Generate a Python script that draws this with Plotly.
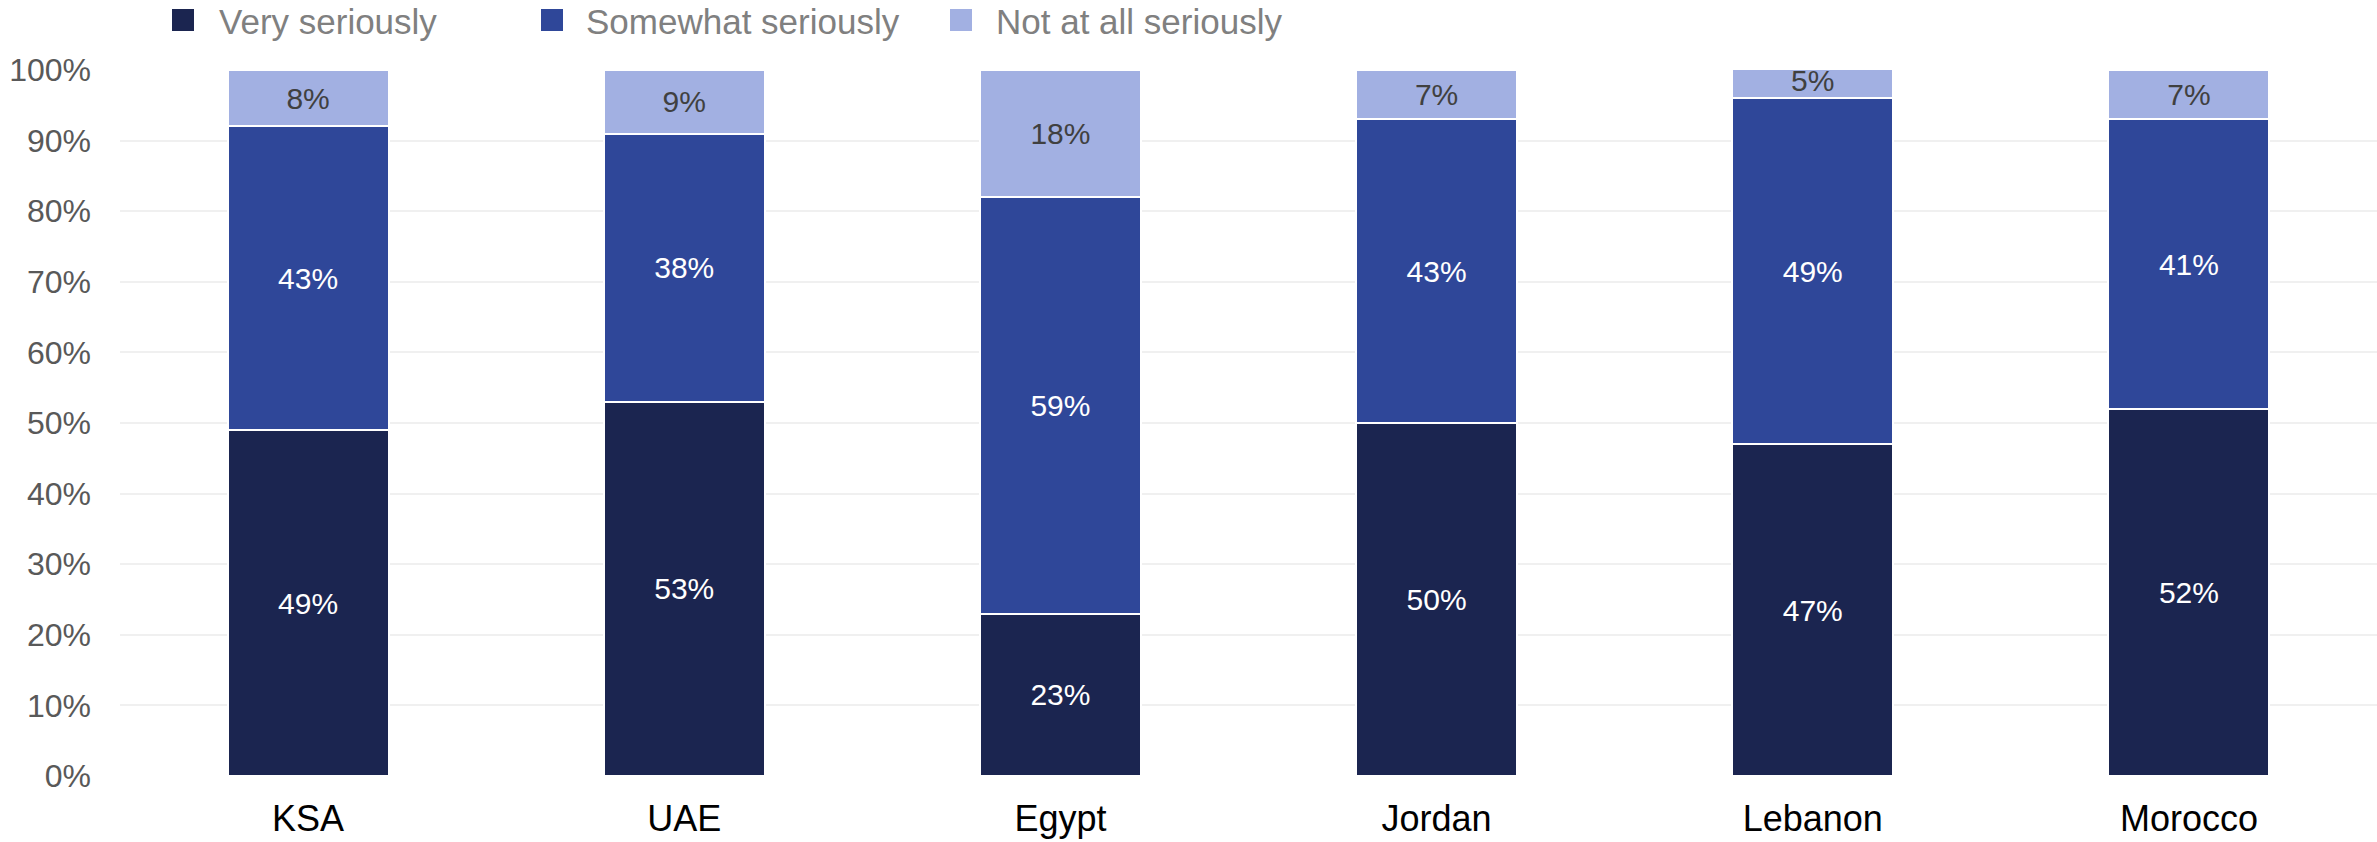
import plotly.graph_objects as go

countries = ["KSA", "UAE", "Egypt", "Jordan", "Lebanon", "Morocco"]
very_seriously = [49, 53, 23, 50, 47, 52]
somewhat_seriously = [43, 38, 59, 43, 49, 41]
not_at_all_seriously = [8, 9, 18, 7, 5, 7]

series_names = ["Very seriously", "Somewhat seriously", "Not at all seriously"]
series_values = [very_seriously, somewhat_seriously, not_at_all_seriously]
series_colors = ["#1b2550", "#2f4799", "#a2b0e2"]
label_colors = ["#ffffff", "#ffffff", "#404040"]

y_ticks = [0, 10, 20, 30, 40, 50, 60, 70, 80, 90, 100]

W, H = 2377, 842
ML, MR, MT, MB = 120, 0, 70, 66
PW, PH = W - ML - MR, H - MT - MB

fig = go.Figure()
for name, vals, col, lcol in zip(series_names, series_values, series_colors, label_colors):
    fig.add_trace(go.Bar(
        x=countries, y=vals, name=name,
        marker=dict(color=col, line=dict(color="#ffffff", width=2)),
        text=[f"{v}%" for v in vals],
        textposition="inside", insidetextanchor="middle",
        textfont=dict(family="Liberation Sans, Arial, sans-serif", size=30, color=lcol),
        constraintext="none",
        showlegend=False,
    ))

# manual legend (squares + text), positions given in page pixels
def px_x(p):
    return (p - ML) / PW

def px_y(p):
    return (H - MB - p) / PH

legend_sq = [(172, 194), (541, 563), (950, 972)]
legend_tx = [218, 585, 995]
for (x0, x1), tx, name, col in zip(legend_sq, legend_tx, series_names, series_colors):
    fig.add_shape(type="rect", xref="paper", yref="paper",
                  x0=px_x(x0), x1=px_x(x1), y0=px_y(31), y1=px_y(9),
                  fillcolor=col, line=dict(width=0))
    fig.add_annotation(xref="paper", yref="paper", x=px_x(tx), y=px_y(21),
                       xanchor="left", yanchor="middle", text=name, showarrow=False,
                       font=dict(family="Liberation Sans, Arial, sans-serif", size=35, color="#808080"),
                       borderpad=0)

fig.update_layout(
    width=W, height=H,
    barmode="stack", bargap=0.572,
    margin=dict(l=ML, r=MR, t=MT, b=MB, pad=0, autoexpand=False),
    plot_bgcolor="#ffffff", paper_bgcolor="#ffffff",
    font=dict(family="Liberation Sans, Arial, sans-serif"),
)
fig.update_yaxes(
    range=[0, 100], tickvals=y_ticks, ticktext=[f"{v}%" for v in y_ticks],
    showgrid=True, gridcolor="#f0f0f0", gridwidth=2,
    zeroline=False, showline=False, ticks="",
    ticklabelstandoff=28, automargin=False,
    tickfont=dict(size=32, color="#595959"),
)
fig.update_xaxes(
    showgrid=False, zeroline=False, showline=False, ticks="",
    ticklabelstandoff=18, automargin=False,
    tickfont=dict(size=36, color="#000000"),
)

# remove the default 8px page margin so the figure fills the window exactly
fig.write_html(
    "out.html",
    config={"displayModeBar": False},
    post_script="document.body.style.margin='0';document.body.style.overflow='hidden';",
)
